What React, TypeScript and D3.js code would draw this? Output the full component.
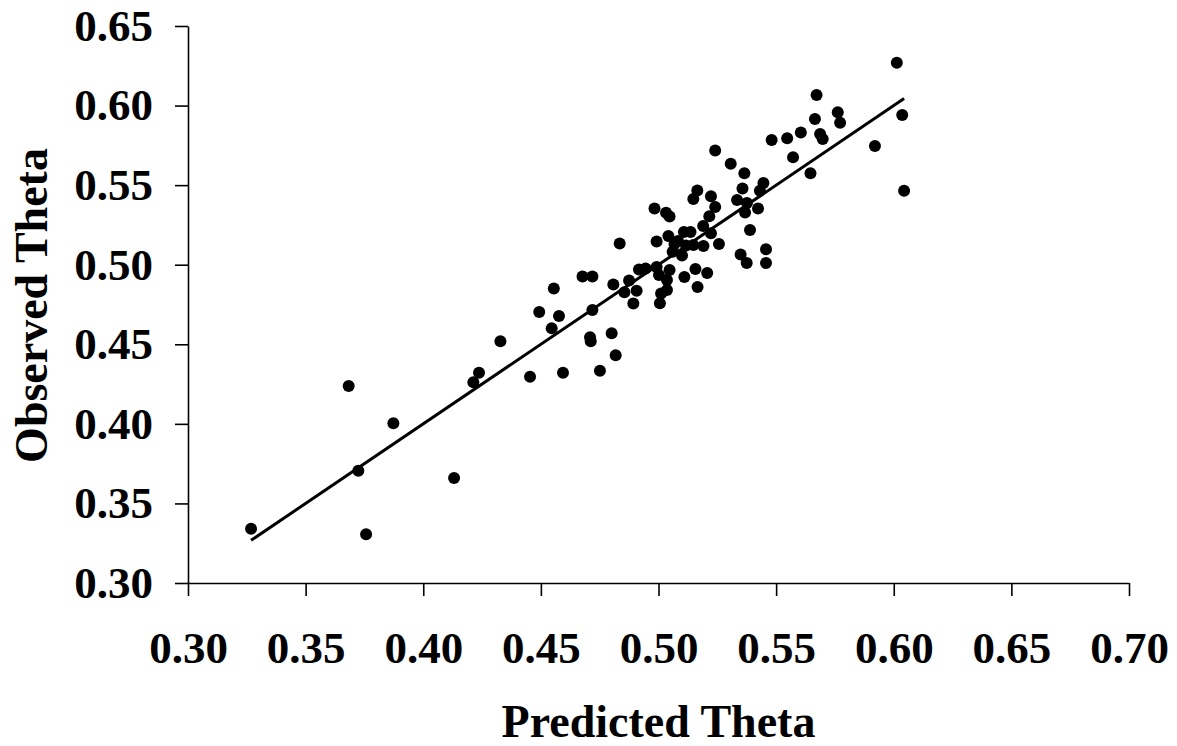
import React, { useRef, useEffect } from "react";
import { select, scaleLinear, axisBottom, axisLeft, format, extent, line } from "d3";

// predicted vs observed theta
const predictedTheta = [
  0.3268, 0.3683, 0.3724, 0.3757, 0.3873, 0.4131, 0.4213, 0.4237, 0.4328, 0.4454,
  0.4493, 0.4577, 0.4546, 0.4555, 0.4594, 0.4677, 0.4719, 0.4709, 0.4712, 0.4719,
  0.4751, 0.4801, 0.4818, 0.4808, 0.4835, 0.4855, 0.4875, 0.4907, 0.4893, 0.4917,
  0.4945, 0.4992, 0.5042, 0.4983, 0.5032, 0.5047, 0.4992, 0.5002, 0.5047, 0.5036,
  0.5036, 0.5011, 0.5006, 0.5068, 0.506, 0.51, 0.5108, 0.5136, 0.5083, 0.5148,
  0.5191, 0.5257, 0.5157, 0.5207, 0.511, 0.5166, 0.5165, 0.5148, 0.5223, 0.5241,
  0.5216, 0.519, 0.5223, 0.5241, 0.5307, 0.5365, 0.5446, 0.5431, 0.5357, 0.5334,
  0.5376, 0.5368, 0.5423, 0.5389, 0.5457, 0.5457, 0.5349, 0.5375, 0.5481, 0.5547,
  0.5605, 0.5665, 0.5672, 0.5762, 0.5772, 0.5687, 0.5698, 0.5572, 0.5646, 0.592,
  0.6013, 0.6036, 0.6044, 0.5117,
];

const observedTheta = [
  0.3341, 0.4238, 0.3706, 0.3306, 0.4004, 0.366, 0.4261, 0.4321, 0.4519, 0.4296,
  0.4703, 0.4678, 0.46, 0.4851, 0.4321, 0.4926, 0.4926, 0.4544, 0.4519, 0.4715,
  0.4334, 0.4569, 0.4431, 0.4876, 0.5133, 0.4827, 0.4901, 0.4837, 0.4756, 0.497,
  0.4976, 0.5146, 0.518, 0.5353, 0.5327, 0.5303, 0.4986, 0.4935, 0.4967, 0.4904,
  0.4841, 0.4819, 0.4758, 0.513, 0.5082, 0.5058, 0.5206, 0.5206, 0.5149, 0.5124,
  0.5118, 0.513, 0.4973, 0.4948, 0.4923, 0.486, 0.5466, 0.5413, 0.543, 0.5363,
  0.5304, 0.5243, 0.5197, 0.5718, 0.5635, 0.5574, 0.5514, 0.5465, 0.5479, 0.5407,
  0.5388, 0.5328, 0.5353, 0.5218, 0.5097, 0.5011, 0.5064, 0.5011, 0.5784, 0.5794,
  0.5831, 0.5916, 0.6066, 0.5958, 0.5892, 0.5821, 0.579, 0.5675, 0.5574, 0.5746,
  0.6269, 0.5941, 0.5465, 0.5121,
];

const xTicks = [0.3, 0.35, 0.4, 0.45, 0.5, 0.55, 0.6, 0.65, 0.7];
const yTicks = [0.3, 0.35, 0.4, 0.45, 0.5, 0.55, 0.6, 0.65];

const WIDTH = 1177;
const HEIGHT = 746;
const margin = { top: 26, right: 48, bottom: 163, left: 188 };
const FONT = "'Liberation Serif', 'Times New Roman', serif";

function App() {
  const svgRef = useRef<SVGSVGElement>(null);

  useEffect(() => {
    const svg = select(svgRef.current);
    svg.selectAll("*").remove();

    const xScale = scaleLinear().domain([0.3, 0.7]).range([margin.left, WIDTH - margin.right]);
    const yScale = scaleLinear().domain([0.3, 0.65]).range([HEIGHT - margin.bottom, margin.top]);

    // axes
    const xAxis = svg
      .append("g")
      .attr("transform", `translate(0,${HEIGHT - margin.bottom})`)
      .call(axisBottom(xScale).tickValues(xTicks).tickFormat(format(".2f")).tickSize(13).tickSizeOuter(0).tickPadding(35));

    const yAxis = svg
      .append("g")
      .attr("transform", `translate(${margin.left},0)`)
      .call(axisLeft(yScale).tickValues(yTicks).tickFormat(format(".2f")).tickSize(13).tickSizeOuter(0).tickPadding(22));

    [xAxis, yAxis].forEach(g => {
      g.selectAll("path, line").attr("stroke", "#000").attr("stroke-width", 1.6);
      g.selectAll("text")
        .attr("fill", "#000")
        .style("font-family", FONT)
        .style("font-weight", "bold")
        .style("font-size", "45px");
    });

    // the y = x line over the range of predictions
    const [lo, hi] = extent(predictedTheta) as [number, number];
    const fitLine = line<number>()
      .x(d => xScale(d))
      .y(d => yScale(d));
    svg
      .append("path")
      .attr("d", fitLine([lo, hi]))
      .attr("fill", "none")
      .attr("stroke", "#000")
      .attr("stroke-width", 3);

    // dots
    svg
      .append("g")
      .selectAll("circle")
      .data(predictedTheta)
      .join("circle")
      .attr("cx", d => xScale(d))
      .attr("cy", (d, i) => yScale(observedTheta[i]))
      .attr("r", 6)
      .attr("fill", "#000");

    // axis titles
    svg
      .append("text")
      .attr("x", (margin.left + WIDTH - margin.right) / 2)
      .attr("y", 737)
      .attr("text-anchor", "middle")
      .style("font-family", FONT)
      .style("font-weight", "bold")
      .style("font-size", "46px")
      .text("Predicted Theta");

    svg
      .append("text")
      .attr("transform", `translate(47,${(margin.top + HEIGHT - margin.bottom) / 2 + 1}) rotate(-90)`)
      .attr("text-anchor", "middle")
      .style("font-family", FONT)
      .style("font-weight", "bold")
      .style("font-size", "46px")
      .text("Observed Theta");
  }, []);

  return (
    <div style={{ position: "absolute", left: 0, top: 0 }}>
      <svg ref={svgRef} width={WIDTH} height={HEIGHT} style={{ display: "block", background: "#fff" }}></svg>
    </div>
  );
}

export default App;
